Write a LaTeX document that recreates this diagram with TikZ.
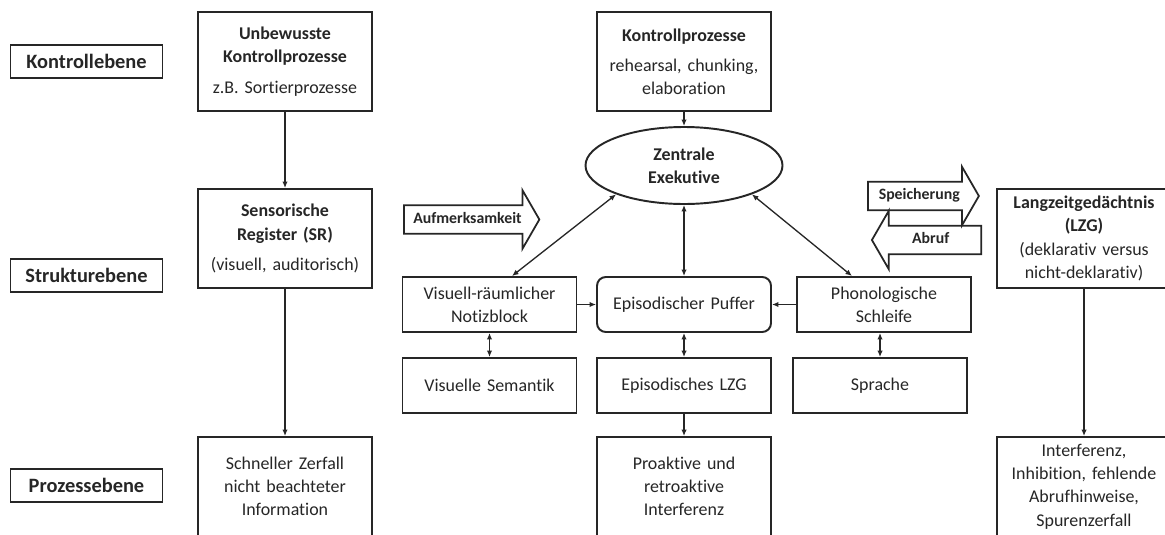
\documentclass[tikz,border=0pt]{standalone}
\usepackage{fontspec}
\setmainfont{Carlito}[Ligatures={NoCommon}]
\usetikzlibrary{shapes.geometric, shapes.arrows, arrows.meta, positioning, calc}

\begin{document}
\begin{tikzpicture}[
        lvl/.style={rectangle, draw=black!85, line width=1.1pt, minimum width=3.04cm, minimum height=0.66cm, font=\fontsize{11.6}{13}\selectfont\bfseries, text=black!85},
        box/.style={rectangle, draw=black!85, line width=1.1pt, minimum width=3.48cm, minimum height=1.98cm, text width=3.3cm, align=center, inner sep=1pt, font=\fontsize{10.2}{13.2}\selectfont, text=black!85},
        small/.style={box, minimum height=1.1cm},
        oval/.style={ellipse, draw=black!85, line width=1.1pt, minimum width=3.94cm, minimum height=1.54cm, align=center, inner sep=0pt, font=\fontsize{10.2}{13.2}\selectfont\bfseries, text=black!85},
        bigarrow/.style={single arrow, draw=black!85, line width=1pt, single arrow head extend=0.3cm, single arrow tip angle=120, text height=6pt, text depth=1.5pt, inner ysep=3.9pt, font=\fontsize{9}{10}\selectfont\bfseries, text=black!85},
        flow/.style={-{Latex[length=1.3mm, width=1.1mm]}, line width=0.75pt, draw=black!85},
        dbl/.style={{Latex[length=1.3mm, width=1.1mm]}-{Latex[length=1.3mm, width=1.1mm]}, line width=0.75pt, draw=black!85}
    ]
        \clip (0,0) rectangle (23.3,-10.68);
        \fill[white] (0,0) rectangle (23.3,-10.68);

        % Ebenen
        \node[lvl] (kebene) at (1.73,-1.23) {Kontrollebene};
        \node[lvl] (sebene) at (1.73,-5.51) {Strukturebene};
        \node[lvl] (pebene) at (1.73,-9.71) {Prozessebene};

        % Sensorisches Gedaechtnis
        \node[box] (unbewusst) at (5.70,-1.23) {\textbf{Unbewusste}\\ \textbf{Kontrollprozesse}\\[4pt] z.B. Sortierprozesse};
        \node[box] (sensor) at (5.70,-4.77) {\textbf{Sensorische}\\ \textbf{Register (SR)}\\[4pt] (visuell, auditorisch)};
        \node[box] (zerfall) at (5.70,-9.73) {Schneller Zerfall\\ nicht beachteter\\ Information};

        % Arbeitsgedaechtnis
        \node[box] (kontroll) at (13.68,-1.23) {\textbf{Kontrollprozesse}\\[4pt] rehearsal, chunking,\\ elaboration};
        \node[oval] (zentral) at (13.68,-3.31) {Zentrale\\ Exekutive};
        \node[small, rounded corners=5pt] (puffer) at (13.68,-6.09) {Episodischer Puffer};
        \node[small] (epilzg) at (13.68,-7.71) {Episodisches LZG};
        \node[box] (interferenz) at (13.68,-9.73) {Proaktive und\\ retroaktive\\ Interferenz};
        \node[small] (notiz) at (9.79,-6.09) {Visuell-räumlicher\\ Notizblock};
        \node[small] (semantik) at (9.79,-7.71) {Visuelle Semantik};
        \node[small] (phono) at (17.68,-6.09) {Phonologische\\ Schleife};
        \node[small] (sprache) at (17.60,-7.71) {Sprache};

        % Langzeitgedaechtnis
        \node[box] (lzg) at (21.68,-4.77) {\textbf{Langzeitgedächtnis}\\ \textbf{(LZG)}\\ (deklarativ versus\\ nicht-deklarativ)};
        \node[box] (vergessen) at (21.68,-9.73) {Interferenz,\\ Inhibition, fehlende\\ Abrufhinweise,\\ Spurenzerfall};

        % Blockpfeile
        \node[bigarrow, inner xsep=0.17cm, anchor=tail] (aufmerksam) at (8.06,-4.39) {Aufmerksamkeit};
        \node[bigarrow, inner xsep=0.2cm, anchor=tail] (speichern) at (17.34,-3.92) {Speicherung};
        \node[bigarrow, inner xsep=0.62cm, shape border rotate=180, anchor=tail] (abruf) at (19.64,-4.80) {Abruf};

        % Pfeile
        \draw[flow] (unbewusst) -- (sensor);
        \draw[flow] (sensor) -- (zerfall);
        \draw[flow] (kontroll) -- (zentral);
        \draw[dbl] (zentral.203) -- ([xshift=0.45cm]notiz.north);
        \draw[dbl] (zentral) -- (puffer);
        \draw[dbl] (zentral.-23) -- ([xshift=-0.64cm]phono.north);
        \draw[flow] (notiz) -- (puffer);
        \draw[flow] (phono) -- (puffer);
        \draw[dbl] (notiz) -- (semantik);
        \draw[dbl] (puffer) -- (epilzg);
        \draw[dbl] (sprache.north) -- (sprache.north |- phono.south);
        \draw[flow] (epilzg) -- (interferenz);
        \draw[flow] (lzg) -- (vergessen);
    \end{tikzpicture}
\end{document}
